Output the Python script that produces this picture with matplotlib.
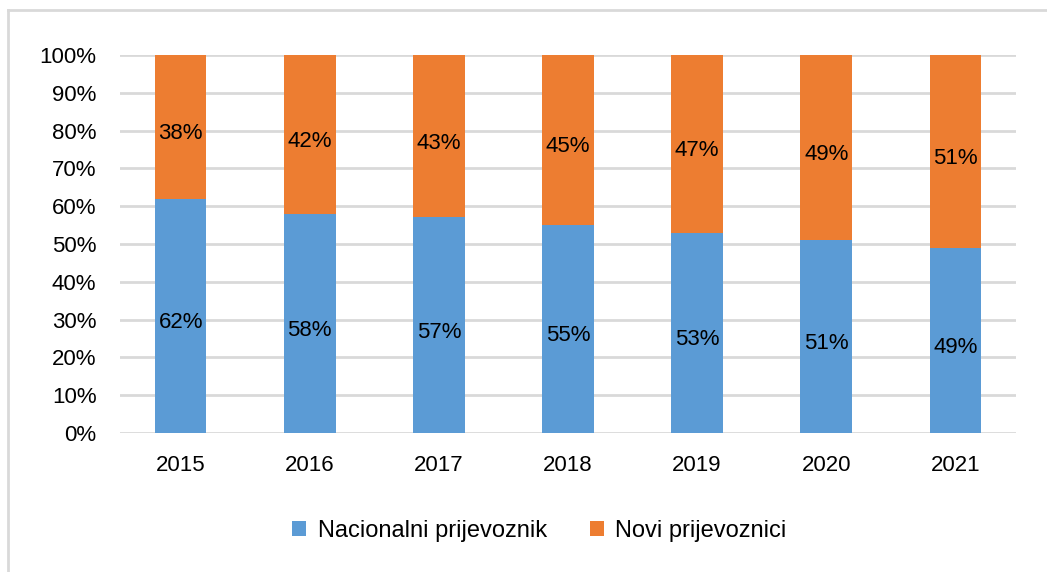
import matplotlib.pyplot as plt
from matplotlib.lines import Line2D
import numpy as np

plt.rcParams['font.family'] = ['Liberation Sans', 'DejaVu Sans']

# Data
years = ['2015', '2016', '2017', '2018', '2019', '2020', '2021']
nacionalni = [62, 58, 57, 55, 53, 51, 49]
novi = [38, 42, 43, 45, 47, 49, 51]
series_names = ['Nacionalni prijevoznik', 'Novi prijevoznici']

blue = '#5B9BD5'
orange = '#ED7D31'

fig = plt.figure(figsize=(10.47, 5.72), dpi=100)
ax = fig.add_axes([0.1146, 0.243, 0.8558, 0.661])

x = np.arange(len(years))
b1 = ax.bar(x, nacionalni, width=0.4, color=blue, label=series_names[0], zorder=2)
b2 = ax.bar(x, novi, width=0.4, bottom=nacionalni, color=orange, label=series_names[1], zorder=2)

# Labels in the middle of each segment
for bars, vals in [(b1, nacionalni), (b2, novi)]:
    for bar, v in zip(bars, vals):
        ax.annotate(f"{v}%", (bar.get_x() + bar.get_width() / 2, bar.get_y() + bar.get_height() / 2),
                    xytext=(0, -5), textcoords='offset points',
                    ha='center', va='center', fontsize=16, color='black', zorder=3)

ax.set_xlim(-0.47, 6.47)
ax.set_ylim(0, 100)
ax.set_yticks(range(0, 101, 10))
ax.set_yticklabels([f"{t}%" for t in range(0, 101, 10)])
ax.set_xticks(x)
ax.set_xticklabels(years)
ax.tick_params(axis='both', length=0, labelsize=16)
ax.tick_params(axis='y', pad=17)
ax.tick_params(axis='x', pad=16)
ax.grid(axis='y', color='#D9D9D9', linewidth=2, zorder=0)
for s in ax.spines.values():
    s.set_visible(False)

ax.legend(loc='center', bbox_to_anchor=(0.468, -0.26), ncol=2, frameon=False,
          fontsize=17, handlelength=0.6, handleheight=0.6, handletextpad=0.5,
          columnspacing=1.8)

# Outer frame (top and left edges visible)
fig.add_artist(Line2D([8 / 1047, 1.0], [1 - 10 / 572, 1 - 10 / 572],
                      transform=fig.transFigure, color='#D9D9D9', linewidth=2))
fig.add_artist(Line2D([8 / 1047, 8 / 1047], [0, 1 - 10 / 572],
                      transform=fig.transFigure, color='#D9D9D9', linewidth=2))

plt.savefig('out.png', dpi=100)
